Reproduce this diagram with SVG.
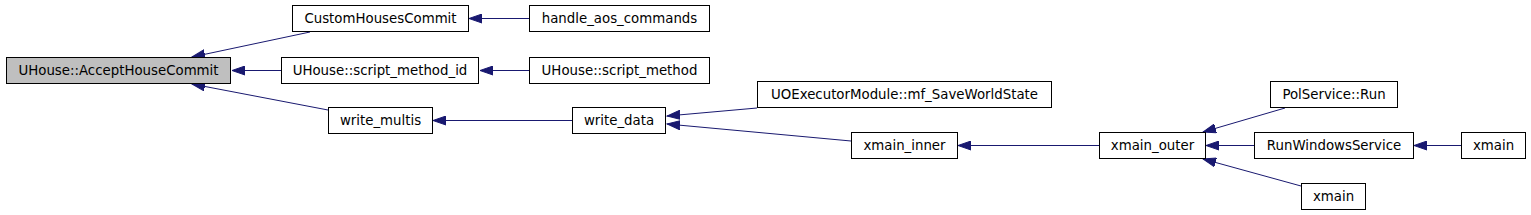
<svg xmlns="http://www.w3.org/2000/svg" width="1531" height="215" viewBox="0 0 1531 215">
<style>
.n rect{fill:#fff;stroke:#000;stroke-width:1}
.n.root rect{fill:#bfbfbf}
.n text{font-family:"DejaVu Sans",sans-serif;font-size:13.33px;fill:#000;text-anchor:middle}
.e path{fill:none;stroke:#191970;stroke-width:1;marker-end:url(#ah)}
</style>
<defs>
<marker id="ah" markerUnits="userSpaceOnUse" markerWidth="14" markerHeight="10" refX="13" refY="5" orient="auto" viewBox="0 0 14 10">
<path d="M0,0.5 L13,5 L0,9.5 Z" fill="#191970" stroke="#191970" stroke-width="1"/>
</marker>
</defs>
<rect width="1531" height="215" fill="#fff"/>
<g id="edges" class="e">
<path d="M310,32 L192,57"/>
<path d="M281,70.5 L232,70.5"/>
<path d="M328,110 L192,84"/>
<path d="M529,18.5 L469,18.5"/>
<path d="M529,70.5 L480,70.5"/>
<path d="M572,120.5 L433,120.5"/>
<path d="M757,108 L667,116"/>
<path d="M851,141 L667,124"/>
<path d="M1099,145.5 L958,145.5"/>
<path d="M1285,108 L1203,132"/>
<path d="M1254,145.5 L1206,145.5"/>
<path d="M1301,186 L1203,159"/>
<path d="M1461,145.5 L1414,145.5"/>
</g>
<g id="n_accept" class="n root"><rect x="6.5" y="57.5" width="224" height="26"/><text x="118.5" y="75.3">UHouse::AcceptHouseCommit</text></g>
<g id="n_customhouses" class="n"><rect x="292.5" y="5.5" width="176" height="26"/><text x="380.5" y="23.3">CustomHousesCommit</text></g>
<g id="n_script_method_id" class="n"><rect x="281.5" y="57.5" width="197" height="26"/><text x="380" y="75.3">UHouse::script_method_id</text></g>
<g id="n_write_multis" class="n"><rect x="328.5" y="107.5" width="104" height="26"/><text x="380.5" y="125.3">write_multis</text></g>
<g id="n_handle_aos" class="n"><rect x="529.5" y="5.5" width="180" height="26"/><text x="619.5" y="23.3">handle_aos_commands</text></g>
<g id="n_script_method" class="n"><rect x="529.5" y="57.5" width="180" height="26"/><text x="619.5" y="75.3">UHouse::script_method</text></g>
<g id="n_write_data" class="n"><rect x="572.5" y="107.5" width="93" height="26"/><text x="619" y="125.3">write_data</text></g>
<g id="n_uoexec" class="n"><rect x="757.5" y="81.5" width="294" height="26"/><text x="904.5" y="99.3">UOExecutorModule::mf_SaveWorldState</text></g>
<g id="n_xmain_inner" class="n"><rect x="851.5" y="132.5" width="106" height="26"/><text x="904.5" y="150.3">xmain_inner</text></g>
<g id="n_xmain_outer" class="n"><rect x="1099.5" y="132.5" width="106" height="26"/><text x="1152.5" y="150.3">xmain_outer</text></g>
<g id="n_polservice" class="n"><rect x="1270.5" y="81.5" width="127" height="26"/><text x="1334" y="99.3">PolService::Run</text></g>
<g id="n_runwinsvc" class="n"><rect x="1254.5" y="132.5" width="159" height="26"/><text x="1334" y="150.3">RunWindowsService</text></g>
<g id="n_xmain_right" class="n"><rect x="1461.5" y="132.5" width="64" height="26"/><text x="1493.5" y="150.3">xmain</text></g>
<g id="n_xmain_bottom" class="n"><rect x="1301.5" y="183.5" width="64" height="26"/><text x="1333.5" y="201.3">xmain</text></g>
</svg>
